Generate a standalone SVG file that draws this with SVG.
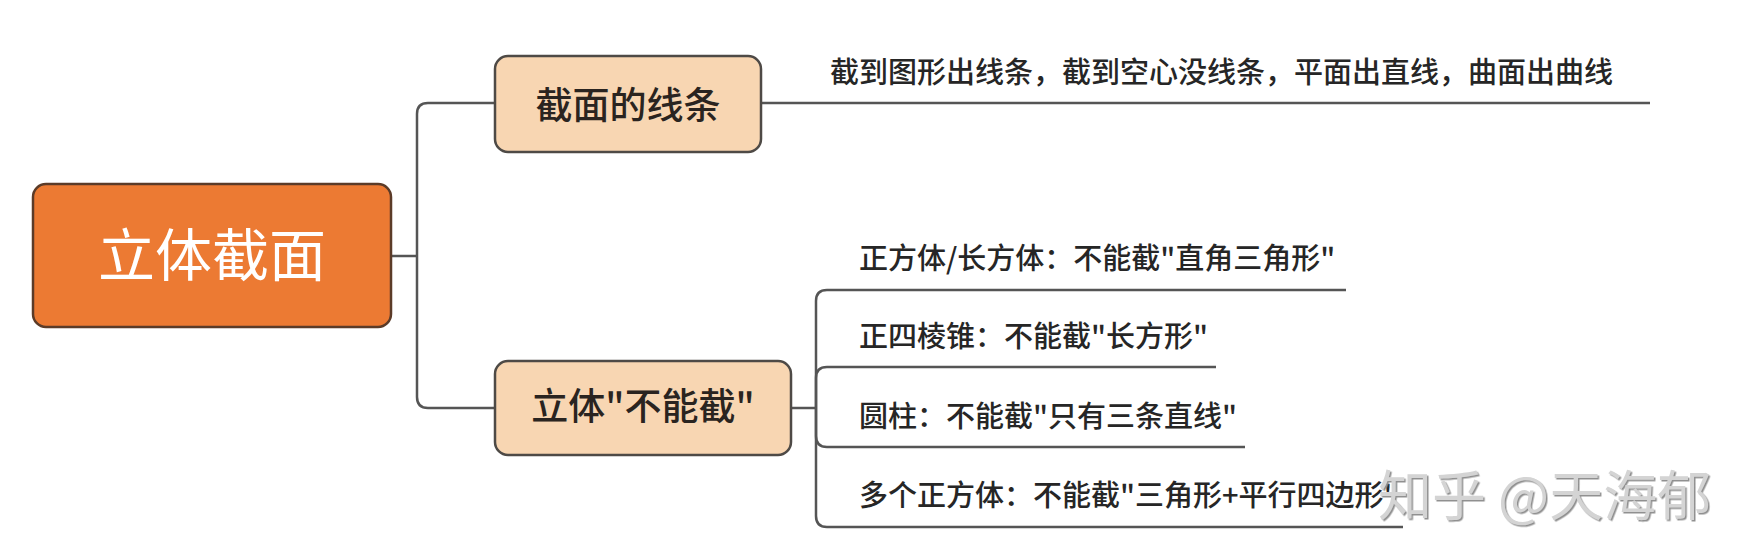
<svg xmlns="http://www.w3.org/2000/svg" width="1759" height="543" viewBox="0 0 1759 543">
<style>
.cn{font-family:"Noto Sans CJK SC","Noto Sans",sans-serif}
.conn{fill:none;stroke:#555;stroke-width:2.5}
.root{fill:#ec7a33;stroke:#5b3b28;stroke-width:2.5}
.sub{fill:#f8d6b2;stroke:#4e4a46;stroke-width:2.5}
.rt{font-size:57px;fill:#fff;text-anchor:middle;font-weight:400}
.st{font-size:37px;fill:#2a2420;text-anchor:middle;font-weight:500}
.lt{font-size:29px;fill:#262626;font-weight:500}
.wm{font-size:54px;fill:#d4d4d4}
</style>
<defs>
<filter id="emboss" x="-5%" y="-20%" width="110%" height="140%">
<feDropShadow dx="1.5" dy="1.5" stdDeviation="0.6" flood-color="#909090"/>
</filter>
</defs>
<rect width="1759" height="543" fill="#fff"/>
<g id="connectors">
<path class="conn" d="M391 256 H417"/>
<path class="conn" d="M417 256 V114 Q417 103 428 103 H495"/>
<path class="conn" d="M417 256 V397 Q417 408 428 408 H495"/>
<path class="conn" d="M761 103 H1650"/>
<path class="conn" d="M791 408 H816"/>
<path class="conn" d="M816 408 V301 Q816 290 827 290 H1346"/>
<path class="conn" d="M816 408 V378 Q816 367 827 367 H1216"/>
<path class="conn" d="M816 408 V436 Q816 447 827 447 H1245"/>
<path class="conn" d="M816 408 V516 Q816 527 827 527 H1403"/>
</g>
<g id="node-root">
<rect class="root" x="33" y="184" width="358" height="143" rx="13"/>
<text class="cn rt" x="212" y="276">立体截面</text>
</g>
<g id="node-lines">
<rect class="sub" x="495" y="56" width="266" height="96" rx="13"/>
<text class="cn st" x="628" y="119">截面的线条</text>
</g>
<g id="leaf-lines">
<text class="cn lt" x="830" y="83">截到图形出线条，截到空心没线条，平面出直线，曲面出曲线</text>
</g>
<g id="node-cannot">
<rect class="sub" x="495" y="361" width="296" height="94" rx="13"/>
<text class="cn st" x="643" y="420">立体"不能截"</text>
</g>
<g id="leaf-1">
<text class="cn lt" x="859" y="269">正方体/长方体：不能截"直角三角形"</text>
</g>
<g id="leaf-2">
<text class="cn lt" x="859" y="347">正四棱锥：不能截"长方形"</text>
</g>
<g id="leaf-3">
<text class="cn lt" x="859" y="427">圆柱：不能截"只有三条直线"</text>
</g>
<g id="leaf-4">
<text class="cn lt" x="859" y="506">多个正方体：不能截"三角形+平行四边形"</text>
</g>
<g id="watermark">
<text class="cn wm" x="1378" y="516" filter="url(#emboss)">知乎 @天海郁</text>
</g>
</svg>
